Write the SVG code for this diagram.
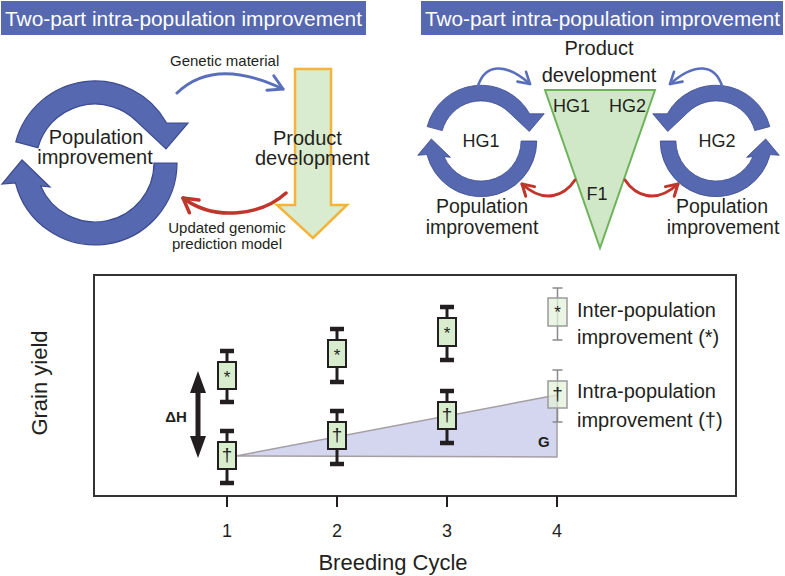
<svg xmlns="http://www.w3.org/2000/svg" width="785" height="576" viewBox="0 0 785 576">
<style>
text{font-family:"Liberation Sans",Arial,sans-serif;fill:#231f20}
.title{fill:#ffffff;font-size:20.5px}
.bar{fill:#5668b0}
.ring{fill:#5568b0;stroke:#3c4b8f;stroke-width:1.2}
.big{font-size:20px}
.mid{font-size:19.5px}
.small{font-size:15px}
.hg{font-size:18px}
.lgd{font-size:20px}
.box{fill:#d8ecce;stroke:#231f20;stroke-width:2}
.wh{stroke:#231f20;stroke-width:3}
.cap{stroke:#231f20;stroke-width:4.5}
.lbox{fill:#e4f1da;fill-opacity:0.75;stroke:#9a9a9a;stroke-width:1.5}
.lwh{stroke:#8a8a8a;stroke-width:1.5}
.star{font-size:17px;text-anchor:middle}
.dag{font-size:19px;text-anchor:middle}
.blue{fill:none;stroke:#5a6fbc;stroke-linecap:round}
.red{fill:none;stroke:#c0362c;stroke-linecap:round}
.tick{stroke:#231f20;stroke-width:2}
</style>
<defs>
<path id="ringU" d="M -79.2,-21.2 A 82 82 0 0 1 71.6,-40 L 93,-40 L 71,-14 L 41.4,-42 A 59 59 0 0 0 -57,-15.3 Z"/>
<path id="ringL" d="M 82,0 A 82 82 0 0 1 -79.5,20 L -93,21 L -73,-3 L -45,24 L -54.3,23 A 59 59 0 0 0 59,0 Z"/>
<marker id="ahBlueL" markerUnits="userSpaceOnUse" markerWidth="20" markerHeight="20" viewBox="-16 -10 20 20" refX="0" refY="0" orient="auto" overflow="visible"><path d="M-14,-8 L0,0 L-14,8" fill="none" stroke="#5a6fbc" stroke-width="3" stroke-linecap="round" stroke-linejoin="round"/></marker>
<marker id="ahBlueS" markerUnits="userSpaceOnUse" markerWidth="20" markerHeight="20" viewBox="-16 -10 20 20" refX="0" refY="0" orient="auto" overflow="visible"><path d="M-11,-6.5 L0,0 L-11,6.5" fill="none" stroke="#5a6fbc" stroke-width="2.6" stroke-linecap="round" stroke-linejoin="round"/></marker>
<marker id="ahRedL" markerUnits="userSpaceOnUse" markerWidth="20" markerHeight="20" viewBox="-16 -10 20 20" refX="0" refY="0" orient="auto" overflow="visible"><path d="M-14,-8 L0,0 L-14,8" fill="none" stroke="#c0362c" stroke-width="3.5" stroke-linecap="round" stroke-linejoin="round"/></marker>
<marker id="ahRedS" markerUnits="userSpaceOnUse" markerWidth="20" markerHeight="20" viewBox="-16 -10 20 20" refX="0" refY="0" orient="auto" overflow="visible"><path d="M-11,-6.5 L0,0 L-11,6.5" fill="none" stroke="#c0362c" stroke-width="3" stroke-linecap="round" stroke-linejoin="round"/></marker>
</defs>
<rect x="0" y="0" width="785" height="576" fill="#ffffff"/>

<g id="title-left">
<rect class="bar" x="1" y="1" width="365" height="34"/>
<text class="title" x="5" y="26" textLength="357" lengthAdjust="spacingAndGlyphs">Two-part intra-population improvement</text>
</g>
<g id="title-right">
<rect class="bar" x="421" y="1" width="362" height="34"/>
<text class="title" x="425" y="26" textLength="355" lengthAdjust="spacingAndGlyphs">Two-part intra-population improvement</text>
</g>

<g id="population-improvement">
<g transform="translate(95,163)">
<use href="#ringU" class="ring"/>
<use href="#ringL" class="ring"/>
</g>
<text class="big" x="96" y="144" text-anchor="middle">Population</text>
<text class="big" x="95" y="164" text-anchor="middle">improvement</text>
</g>

<g id="product-development">
<polygon points="295,69 331,69 331,205 347,205 313,238 277,205 295,205" fill="#d9ecd0" stroke="#f4b43c" stroke-width="2.5" stroke-linejoin="miter"/>
<text class="big" x="273" y="145">Product</text>
<text class="big" x="255" y="165">development</text>
</g>

<g id="hg1-ring">
<g transform="translate(481,141) scale(0.68)">
<use href="#ringU" class="ring" vector-effect="non-scaling-stroke"/>
<use href="#ringL" class="ring" vector-effect="non-scaling-stroke"/>
</g>
<text class="hg" x="481" y="147" text-anchor="middle">HG1</text>
<text class="mid" x="482" y="213" text-anchor="middle">Population</text>
<text class="mid" x="482" y="234" text-anchor="middle">improvement</text>
</g>

<g id="hg2-ring">
<g transform="translate(716,141) scale(-0.68,0.68)">
<use href="#ringU" class="ring" vector-effect="non-scaling-stroke"/>
<use href="#ringL" class="ring" vector-effect="non-scaling-stroke"/>
</g>
<text class="hg" x="717" y="147" text-anchor="middle">HG2</text>
<text class="mid" x="722" y="213" text-anchor="middle">Population</text>
<text class="mid" x="723" y="234" text-anchor="middle">improvement</text>
</g>

<g id="product-development-f1">
<polygon points="545,90 655,90 600,248" fill="#d1e8c8" stroke="#6db35a" stroke-width="2"/>
<text class="big" x="599" y="55" text-anchor="middle">Product</text>
<text class="big" x="599" y="82" text-anchor="middle">development</text>
<text class="hg" x="553" y="112">HG1</text>
<text class="hg" x="609" y="112">HG2</text>
<text class="hg" x="597" y="200" text-anchor="middle">F1</text>
</g>

<g id="connectors">
<path class="blue" stroke-width="3" d="M 177,93 C 205,66 243,70 283,89" marker-end="url(#ahBlueL)"/>
<path class="red" stroke-width="3.5" d="M 286,193 C 262,215 215,222 183,198" marker-end="url(#ahRedL)"/>
<path class="blue" stroke-width="2.6" d="M 478,86 C 485,64 505,62 530,84" marker-end="url(#ahBlueS)"/>
<path class="blue" stroke-width="2.6" d="M 722,86 C 715,64 695,62 670,84" marker-end="url(#ahBlueS)"/>
<path class="red" stroke-width="3" d="M 575,180 C 565,195 545,205 522,184" marker-end="url(#ahRedS)"/>
<path class="red" stroke-width="3" d="M 625,180 C 635,195 655,205 678,184" marker-end="url(#ahRedS)"/>
</g>
<g id="connector-labels">
<text class="small" x="170" y="66">Genetic material</text>
<text class="small" x="227" y="233" text-anchor="middle">Updated genomic</text>
<text class="small" x="227" y="249" text-anchor="middle">prediction model</text>
</g>

<g id="chart">
<rect x="94" y="275" width="642" height="221" fill="#ffffff" stroke="#333333" stroke-width="2"/>
<line class="tick" x1="227" y1="496" x2="227" y2="507"/>
<line class="tick" x1="337" y1="496" x2="337" y2="507"/>
<line class="tick" x1="447" y1="496" x2="447" y2="507"/>
<line class="tick" x1="557" y1="496" x2="557" y2="507"/>
<text x="227" y="537" font-size="18" text-anchor="middle">1</text>
<text x="337" y="537" font-size="18" text-anchor="middle">2</text>
<text x="447" y="537" font-size="18" text-anchor="middle">3</text>
<text x="557" y="537" font-size="18" text-anchor="middle">4</text>
<text x="393" y="570" font-size="22" text-anchor="middle">Breeding Cycle</text>
<text transform="translate(47,383) rotate(-90)" font-size="22" text-anchor="middle">Grain yield</text>

<g id="gain-G">
<polygon points="236,456 557,395 557,457" fill="#d3d6ee" stroke="#a59ea4" stroke-width="1.5"/>
<text x="538" y="447" font-size="15" font-weight="bold" fill="#333">G</text>
</g>

<g id="delta-H">
<path d="M198,371 L206,393 L200.5,393 L200.5,436 L206,436 L198,458 L190,436 L195.5,436 L195.5,393 L190,393 Z" fill="#231f20"/>
<text x="176" y="422" font-size="15" font-weight="bold" text-anchor="middle">ΔH</text>
</g>

<g id="cycle1">
<line class="wh" x1="227" y1="351" x2="227" y2="402"/>
<line class="cap" x1="220" y1="351" x2="234" y2="351"/>
<line class="cap" x1="220" y1="402" x2="234" y2="402"/>
<rect class="box" x="218" y="362" width="18" height="27"/>
<text class="star" x="227" y="383">*</text>
<line class="wh" x1="227" y1="431" x2="227" y2="483"/>
<line class="cap" x1="220" y1="431" x2="234" y2="431"/>
<line class="cap" x1="220" y1="483" x2="234" y2="483"/>
<rect class="box" x="218" y="442" width="18" height="27"/>
<text class="dag" x="227" y="461">†</text>
</g>
<g id="cycle2">
<line class="wh" x1="337" y1="329" x2="337" y2="382"/>
<line class="cap" x1="330" y1="329" x2="344" y2="329"/>
<line class="cap" x1="330" y1="382" x2="344" y2="382"/>
<rect class="box" x="328" y="340" width="18" height="27"/>
<text class="star" x="337" y="361">*</text>
<line class="wh" x1="337" y1="411" x2="337" y2="464"/>
<line class="cap" x1="330" y1="411" x2="344" y2="411"/>
<line class="cap" x1="330" y1="464" x2="344" y2="464"/>
<rect class="box" x="328" y="422" width="18" height="27"/>
<text class="dag" x="337" y="441">†</text>
</g>
<g id="cycle3">
<line class="wh" x1="447" y1="307" x2="447" y2="360"/>
<line class="cap" x1="440" y1="307" x2="454" y2="307"/>
<line class="cap" x1="440" y1="360" x2="454" y2="360"/>
<rect class="box" x="438" y="318" width="18" height="28"/>
<text class="star" x="447" y="339">*</text>
<line class="wh" x1="447" y1="391" x2="447" y2="443"/>
<line class="cap" x1="440" y1="391" x2="454" y2="391"/>
<line class="cap" x1="440" y1="443" x2="454" y2="443"/>
<rect class="box" x="438" y="402" width="18" height="27"/>
<text class="dag" x="447" y="421">†</text>
</g>

<g id="legend-inter">
<line class="lwh" x1="557.5" y1="288" x2="557.5" y2="340"/>
<line class="lwh" x1="552.5" y1="288" x2="562.5" y2="288"/>
<line class="lwh" x1="552.5" y1="340" x2="562.5" y2="340"/>
<rect class="lbox" x="548" y="298" width="19" height="28"/>
<text class="star" x="557.5" y="318">*</text>
<text class="lgd" x="577" y="317">Inter-population</text>
<text class="lgd" x="577" y="344">improvement (*)</text>
</g>
<g id="legend-intra">
<line class="lwh" x1="557.5" y1="370" x2="557.5" y2="422"/>
<line class="lwh" x1="552.5" y1="370" x2="562.5" y2="370"/>
<line class="lwh" x1="552.5" y1="422" x2="562.5" y2="422"/>
<rect class="lbox" x="548" y="381" width="19" height="27"/>
<text class="dag" x="557.5" y="400">†</text>
<text class="lgd" x="577" y="398">Intra-population</text>
<text class="lgd" x="577" y="427">improvement (†)</text>
</g>
</g>
</svg>
